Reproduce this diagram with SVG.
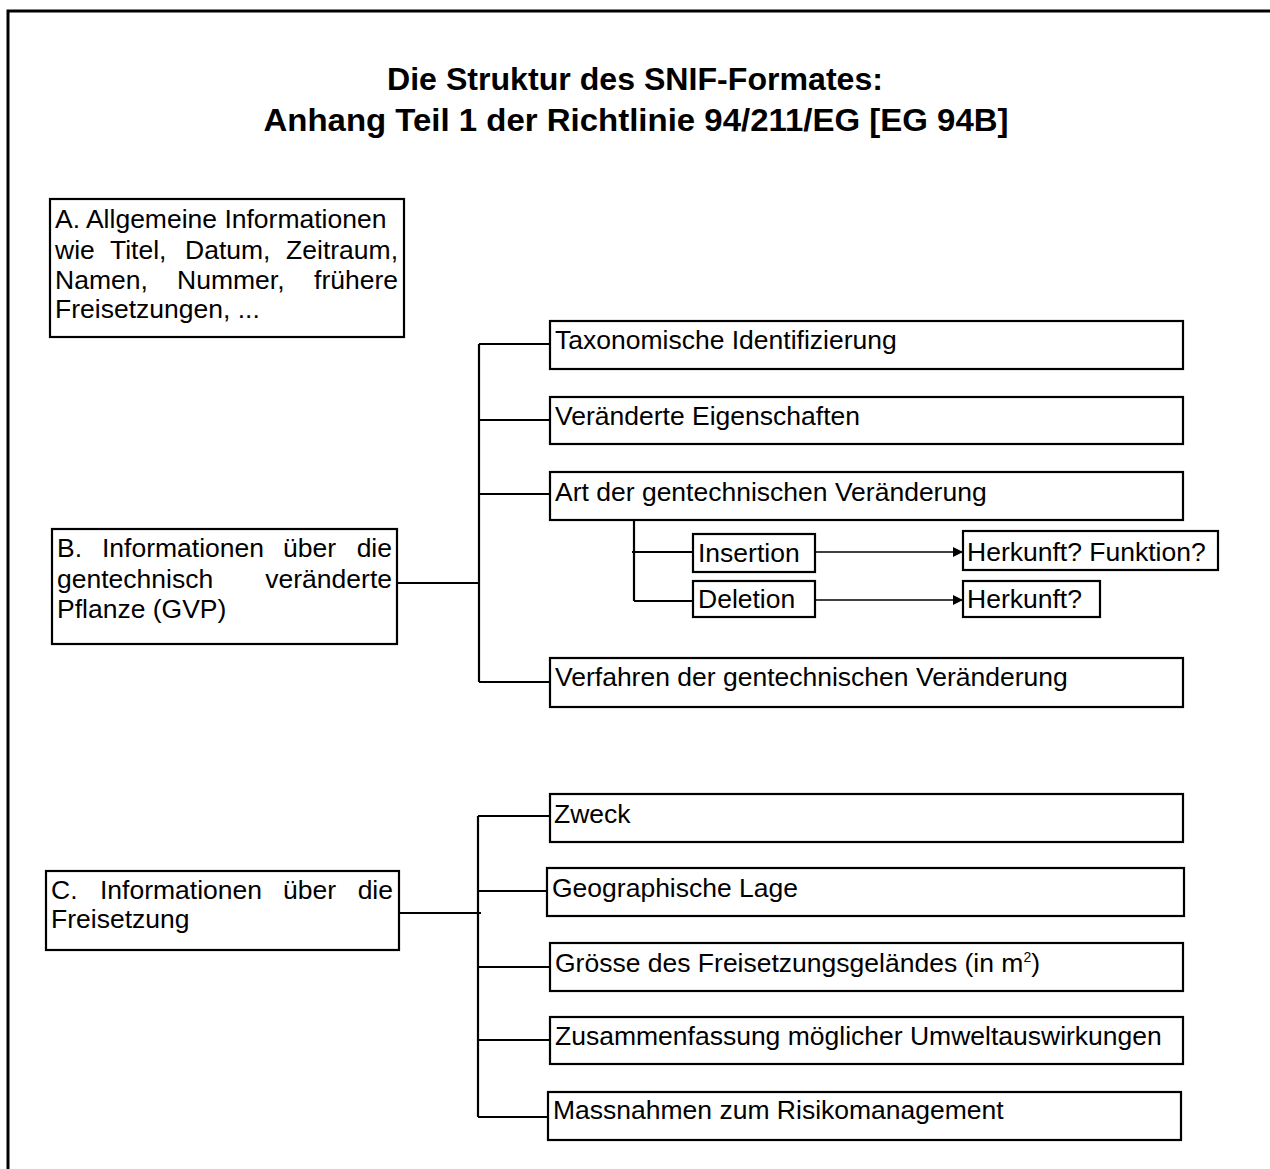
<svg xmlns="http://www.w3.org/2000/svg" width="1270" height="1169" viewBox="0 0 1270 1169">
  <style>
    .frame { fill: none; stroke: #000; stroke-width: 3; }
    .box { fill: #fff; stroke: #000; stroke-width: 2.2; }
    .wire { fill: none; stroke: #000; stroke-width: 2.2; }
    .arrow { fill: none; stroke: #000; stroke-width: 1.6; }
    .t { font-family: "Liberation Sans", Arial, sans-serif; font-size: 26.5px; fill: #000; }
    .title { font-family: "Liberation Sans", Arial, sans-serif; font-size: 32px; font-weight: bold; fill: #000; }
  </style>
  <defs>
    <marker id="head" markerWidth="10" markerHeight="10" refX="10" refY="5" orient="auto" markerUnits="userSpaceOnUse">
      <path d="M0,0 L10,5 L0,10 Z" fill="#000"/>
    </marker>
  </defs>

  <rect width="1270" height="1169" fill="#fff"/>
  <!-- outer page frame, running off the right and bottom edges -->
  <rect class="frame" x="8" y="11" width="1300" height="1200"/>

  <!-- heading -->
  <g id="title">
    <text class="title" x="635" y="90" text-anchor="middle" textLength="496" lengthAdjust="spacingAndGlyphs">Die Struktur des SNIF-Formates:</text>
    <text class="title" x="636" y="131" text-anchor="middle" textLength="745" lengthAdjust="spacingAndGlyphs">Anhang Teil 1 der Richtlinie 94/211/EG [EG 94B]</text>
  </g>

  <!-- connectors -->
  <g id="connectors">
    <!-- B tree -->
    <path class="wire" d="M397,583 H480"/>
    <path class="wire" d="M479,344 V682"/>
    <path class="wire" d="M479,344 H550 M479,420 H550 M479,494 H550 M479,682 H550"/>
    <!-- sub tree under "Art der gentechnischen Veränderung" -->
    <path class="wire" d="M634,520 V601"/>
    <path class="wire" d="M632,552 H693 M634,601 H693"/>
    <path class="arrow" d="M815,552 H963" marker-end="url(#head)"/>
    <path class="arrow" d="M815,600 H963" marker-end="url(#head)"/>
    <!-- C tree -->
    <path class="wire" d="M399,913 H481"/>
    <path class="wire" d="M478,816 V1117"/>
    <path class="wire" d="M478,816 H550 M478,891 H547 M478,967 H550 M478,1040 H550 M478,1117 H548"/>
  </g>

  <!-- A -->
  <g id="node-a">
    <rect class="box" x="50" y="199" width="354" height="138"/>
    <text class="t" y="228"><tspan x="55">A. Allgemeine Informationen</tspan></text>
    <text class="t" y="259"><tspan x="55">wie</tspan><tspan x="110">Titel,</tspan><tspan x="185">Datum,</tspan><tspan x="398" text-anchor="end">Zeitraum,</tspan></text>
    <text class="t" y="289"><tspan x="55">Namen,</tspan><tspan x="177">Nummer,</tspan><tspan x="398" text-anchor="end">frühere</tspan></text>
    <text class="t" y="318"><tspan x="55">Freisetzungen, ...</tspan></text>
  </g>

  <!-- B -->
  <g id="node-b">
    <rect class="box" x="52" y="529" width="345" height="115"/>
    <text class="t" y="557"><tspan x="57">B.</tspan><tspan x="102">Informationen</tspan><tspan x="283">über</tspan><tspan x="392" text-anchor="end">die</tspan></text>
    <text class="t" y="588"><tspan x="57">gentechnisch</tspan><tspan x="392" text-anchor="end">veränderte</tspan></text>
    <text class="t" y="618"><tspan x="57">Pflanze (GVP)</tspan></text>
  </g>

  <g id="node-taxonomie">
    <rect class="box" x="550" y="321" width="633" height="48"/>
    <text class="t" x="555" y="349">Taxonomische Identifizierung</text>
  </g>
  <g id="node-eigenschaften">
    <rect class="box" x="550" y="397" width="633" height="47"/>
    <text class="t" x="555" y="425">Veränderte Eigenschaften</text>
  </g>
  <g id="node-art">
    <rect class="box" x="550" y="472" width="633" height="48"/>
    <text class="t" x="555" y="501">Art der gentechnischen Veränderung</text>
  </g>
  <g id="node-insertion">
    <rect class="box" x="693" y="534" width="122" height="38"/>
    <text class="t" x="698" y="562">Insertion</text>
  </g>
  <g id="node-deletion">
    <rect class="box" x="693" y="581" width="122" height="36"/>
    <text class="t" x="698" y="608">Deletion</text>
  </g>
  <g id="node-herkunft-funktion">
    <rect class="box" x="963" y="531" width="255" height="39"/>
    <text class="t" x="967" y="561">Herkunft? Funktion?</text>
  </g>
  <g id="node-herkunft">
    <rect class="box" x="963" y="581" width="137" height="36"/>
    <text class="t" x="967" y="608">Herkunft?</text>
  </g>
  <g id="node-verfahren">
    <rect class="box" x="550" y="658" width="633" height="49"/>
    <text class="t" x="555" y="686">Verfahren der gentechnischen Veränderung</text>
  </g>

  <!-- C -->
  <g id="node-c">
    <rect class="box" x="46" y="871" width="353" height="79"/>
    <text class="t" y="899"><tspan x="51">C.</tspan><tspan x="100">Informationen</tspan><tspan x="283">über</tspan><tspan x="393" text-anchor="end">die</tspan></text>
    <text class="t" y="928"><tspan x="51">Freisetzung</tspan></text>
  </g>

  <g id="node-zweck">
    <rect class="box" x="550" y="794" width="633" height="48"/>
    <text class="t" x="554" y="823">Zweck</text>
  </g>
  <g id="node-lage">
    <rect class="box" x="547" y="868" width="637" height="48"/>
    <text class="t" x="552" y="897">Geographische Lage</text>
  </g>
  <g id="node-groesse">
    <rect class="box" x="550" y="943" width="633" height="48"/>
    <text class="t" x="555" y="972">Grösse des Freisetzungsgeländes (in m<tspan font-size="14" dy="-10">2</tspan><tspan dy="10">)</tspan></text>
  </g>
  <g id="node-umwelt">
    <rect class="box" x="550" y="1017" width="633" height="47"/>
    <text class="t" x="555" y="1045">Zusammenfassung möglicher Umweltauswirkungen</text>
  </g>
  <g id="node-risiko">
    <rect class="box" x="548" y="1092" width="633" height="48"/>
    <text class="t" x="553" y="1119">Massnahmen zum Risikomanagement</text>
  </g>
</svg>
